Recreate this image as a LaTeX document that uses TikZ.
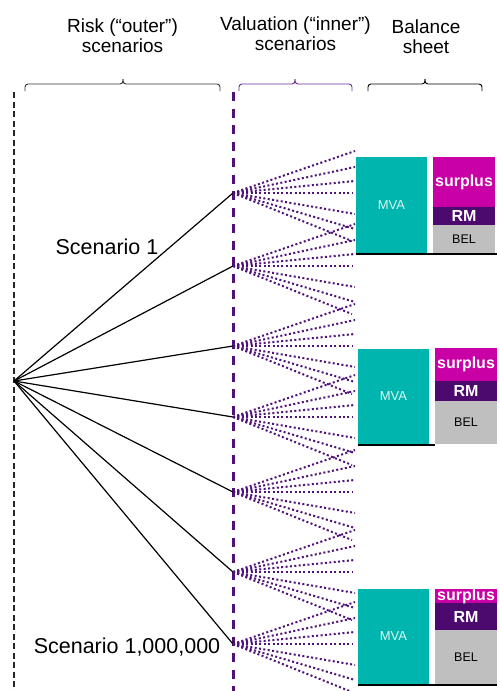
\documentclass[tikz,border=0pt]{standalone}
\usepackage{fontspec}
\setmainfont{Liberation Sans}
\definecolor{tealbox}{HTML}{00B5AD}
\definecolor{magbox}{HTML}{C800A5}
\definecolor{rmbox}{HTML}{4D0A6E}
\definecolor{belbox}{HTML}{BFBFBF}
\definecolor{vio}{HTML}{4F1278}
\definecolor{vioB}{HTML}{6B2D95}
\definecolor{mvatext}{HTML}{DFF5F3}
\begin{document}
\begin{tikzpicture}[x=1pt,y=-1pt,
  head/.style={font=\fontsize{19}{21}\selectfont, inner sep=0pt, anchor=base},
  scen/.style={font=\fontsize{21.5}{24}\selectfont, inner sep=0pt},
  outer/.style={draw=black, line width=1.2pt},
  dotline/.style={draw=vio, line width=2pt, dash pattern=on 2pt off 2.4pt},
  vdash/.style={draw=vio, line width=3pt, dash pattern=on 9pt off 7.5pt},
  kdash/.style={draw=black!85, line width=1.5pt, dash pattern=on 6pt off 3.5pt},
  bracestyle/.style={line width=0.9pt, rounded corners=3pt},
  boxn/.style={inner sep=0pt, outer sep=0pt, anchor=north west},
  mvat/.style={font=\fontsize{13}{15}\selectfont, text=mvatext, inner sep=0pt},
  wbold/.style={font=\fontsize{16}{18}\selectfont\bfseries, text=white, inner sep=0pt},
  belt/.style={font=\fontsize{12.5}{14}\selectfont, text=black, inner sep=0pt},
  baseln/.style={draw=black, line width=1.5pt}
]
\useasboundingbox (0,0) rectangle (499,691);

% headers
\node[head] (h1a) at (122.5,32) {Risk (“outer”)};
\node[head] (h1b) at (122.5,52) {scenarios};
\node[head] (h2a) at (295.5,30) {Valuation (“inner”)};
\node[head] (h2b) at (295.5,50) {scenarios};
\node[head] (h3a) at (426,33) {Balance};
\node[head] (h3b) at (426,53) {sheet};

% braces
\draw[bracestyle, draw=black!80] (25,91) -- (25,84) -- (123,84) -- (123,79);
\draw[bracestyle, draw=black!80] (220,91) -- (220,84) -- (123,84) -- (123,79);
\draw[bracestyle, draw=vioB] (239,91) -- (239,84) -- (295,84) -- (295,79);
\draw[bracestyle, draw=vioB] (352,91) -- (352,84) -- (295,84) -- (295,79);
\draw[bracestyle, draw=black] (368,91) -- (368,84) -- (425,84) -- (425,79);
\draw[bracestyle, draw=black] (482,91) -- (482,84) -- (425,84) -- (425,79);

% vertical dashed lines
\coordinate (ktop) at (14,92);
\coordinate (kbot) at (14,691);
\coordinate (vtop) at (233,92);
\coordinate (vbot) at (233,691);
\draw[kdash] (ktop) -- (kbot);
\draw[vdash] (vtop) -- (vbot);

% root and outer scenarios with inner fans
\coordinate (root) at (14,381);
\foreach \n/\y in {1/193,2/266,3/346,4/417,5/492,6/572,7/644} {
  \coordinate (s\n) at (233,\y);
  \draw[outer] (root) -- (s\n);
  \foreach \k/\d/\x in {1/-42/355, 2/-26/355, 3/-12/355, 4/0/352, 5/21/355, 6/36/355, 7/48/352} {
    \coordinate (f\n\k) at (\x,\y+\d);
    \draw[dotline] (s\n) -- (f\n\k);
  }
}

% scenario labels
\node[scen] (lab1) at (107,247) {Scenario 1};
\node[scen] (lab2) at (127,647) {Scenario 1,000,000};

% balance sheet 1
\node[boxn, fill=tealbox, minimum width=71pt, minimum height=96pt] (mva1) at (356,157) {};
\node[mvat] at (mva1.center) {MVA};
\node[boxn, fill=magbox, minimum width=62pt, minimum height=50pt] (sp1) at (433,157) {};
\node[wbold] at (sp1.center) {surplus};
\node[boxn, fill=rmbox, minimum width=62pt, minimum height=18pt] (rm1) at (433,207) {};
\node[wbold] at (rm1.center) {RM};
\node[boxn, fill=belbox, minimum width=62pt, minimum height=28pt] (bel1) at (433,225) {};
\node[belt] at (bel1.center) {BEL};
\coordinate (b1l) at (356,254);
\coordinate (b1r) at (497,254);
\draw[baseln] (b1l) -- (b1r);

% balance sheet 2
\node[boxn, fill=tealbox, minimum width=71pt, minimum height=95pt] (mva2) at (358,349) {};
\node[mvat] at (mva2.center) {MVA};
\node[boxn, fill=magbox, minimum width=62pt, minimum height=33pt] (sp2) at (435,348) {};
\node[wbold] at (sp2.center) {surplus};
\node[boxn, fill=rmbox, minimum width=62pt, minimum height=20pt] (rm2) at (435,381) {};
\node[wbold] at (rm2.center) {RM};
\node[boxn, fill=belbox, minimum width=62pt, minimum height=43pt] (bel2) at (435,401) {};
\node[belt] at (bel2.center) {BEL};
\coordinate (b2l) at (358,445);
\coordinate (b2r) at (435,445);
\draw[baseln] (b2l) -- (b2r);

% balance sheet 3
\node[boxn, fill=tealbox, minimum width=71pt, minimum height=95pt] (mva3) at (358,589) {};
\node[mvat] at (mva3.center) {MVA};
\node[boxn, fill=magbox, minimum width=62pt, minimum height=14pt] (sp3) at (435,589) {};
\node[boxn, fill=rmbox, minimum width=62pt, minimum height=27pt] (rm3) at (435,603) {};
\node[wbold] at (sp3.center) {surplus};
\node[wbold] at (rm3.center) {RM};
\node[boxn, fill=belbox, minimum width=62pt, minimum height=54pt] (bel3) at (435,630) {};
\node[belt] at (bel3.center) {BEL};
\coordinate (b3l) at (358,685);
\coordinate (b3r) at (497,685);
\draw[baseln] (b3l) -- (b3r);
\end{tikzpicture}
\end{document}
